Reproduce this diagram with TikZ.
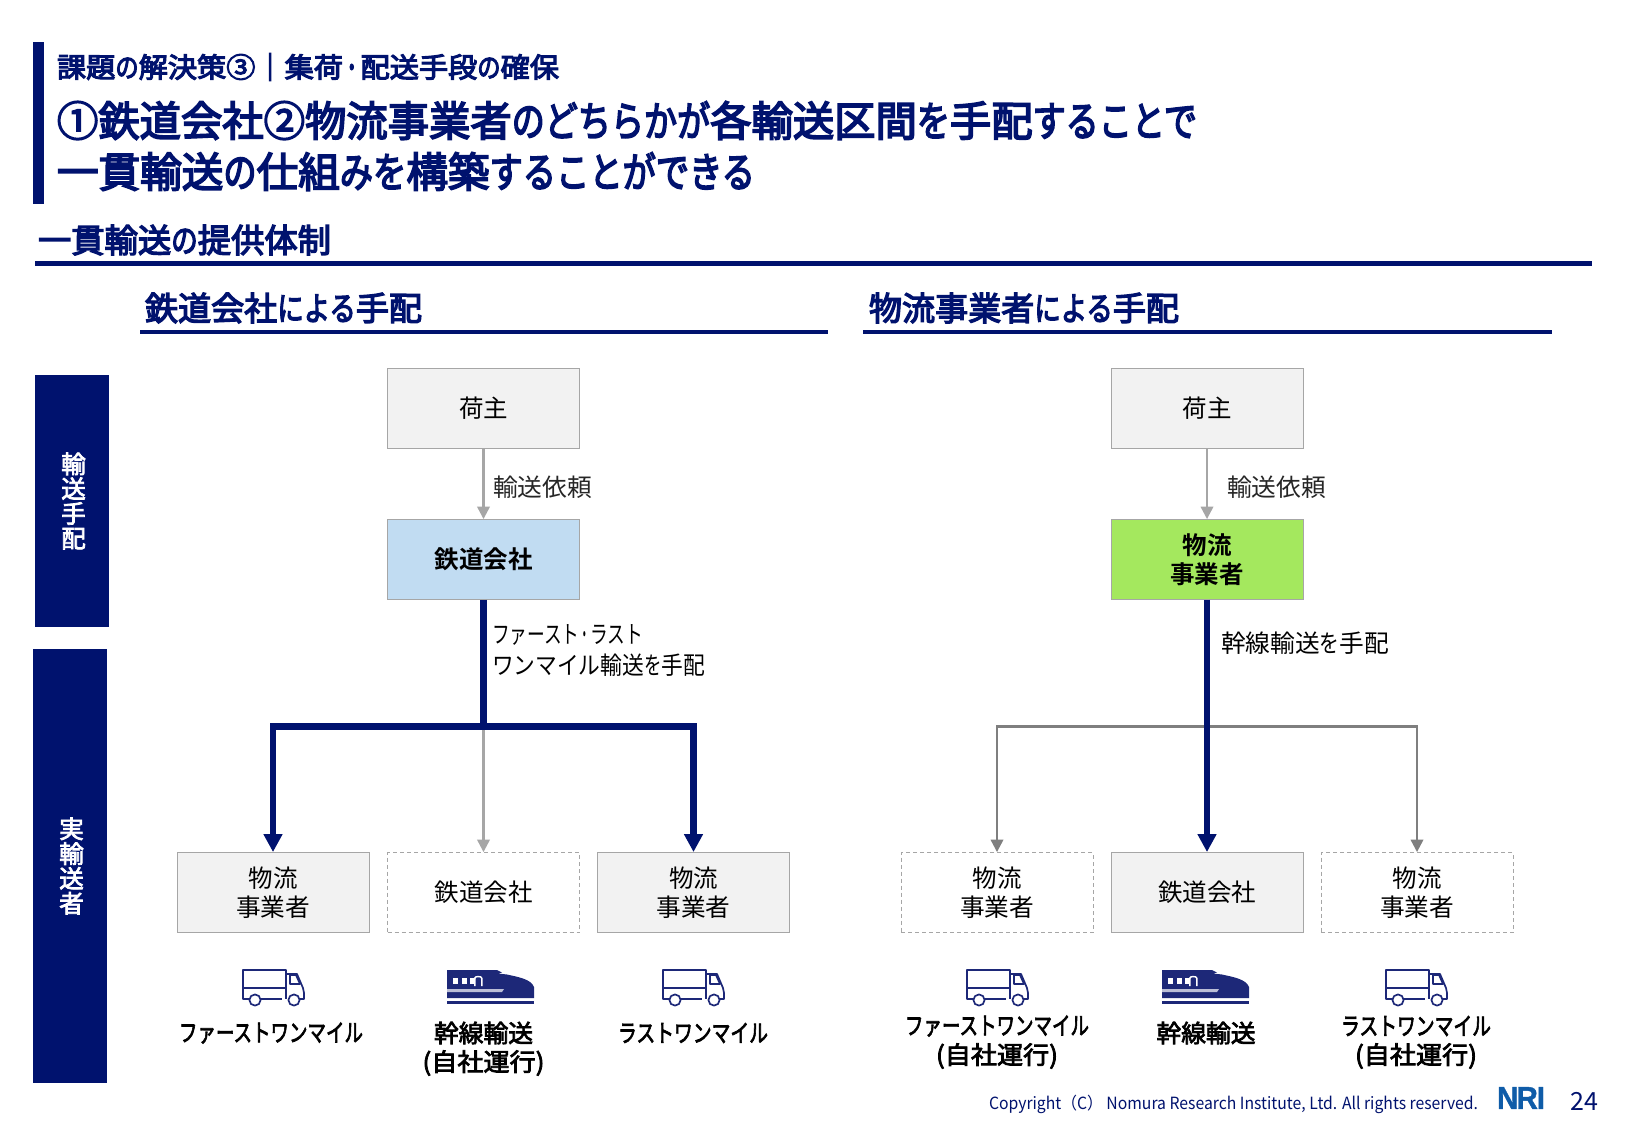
\documentclass[tikz,border=0pt]{standalone}
\usepackage{graphicx}
\usepackage{fontspec}
\setmainfont{Noto Sans CJK JP}[BoldFont={Noto Sans CJK JP Bold}]
\newfontfamily\semifont{Noto Sans CJK JP}[FakeBold=4]
\newfontfamily\captionfont{Noto Sans CJK JP}[FakeBold=3]
\newfontfamily\logofont{Liberation Sans Bold}[FakeBold=1.2]
\usetikzlibrary{arrows.meta}
\definecolor{navy}{HTML}{00126E}
\definecolor{iconblue}{HTML}{1D2878}
\definecolor{linegray}{HTML}{7F7F7F}
\definecolor{lightline}{HTML}{A6A6A6}
\definecolor{boxfill}{HTML}{F2F2F2}
\definecolor{railblue}{HTML}{C1DCF2}
\definecolor{carriergreen}{HTML}{A4E85E}
\definecolor{logoblue}{HTML}{0F5CA8}
% Fits a text to a given width in picture units, keeping its height.
\newlength\fitdim
\newcommand{\fitw}[2]{\setlength\fitdim{#1pt}\resizebox{0.5\fitdim}{\height}{#2}}
% Narrow setting for kana runs, tight setting for the middle dot.
\newcommand{\kn}[1]{\scalebox{0.8}[1]{#1}}
\newcommand{\middot}{\scalebox{0.6}[1]{・}}
\tikzset{
  txt/.style={inner sep=0pt,outer sep=0pt,align=center},
  maintitle/.style={txt,anchor=west,text=navy,font=\semifont\fontsize{20.7}{24}\selectfont},
  kicker/.style={txt,anchor=west,text=navy,font=\semifont\fontsize{13.8}{16}\selectfont},
  heading/.style={txt,anchor=west,text=navy,font=\semifont\fontsize{16.5}{19}\selectfont},
  bandbox/.style={fill=navy,draw=none,inner sep=0pt},
  bandtext/.style={txt,text=white,font=\captionfont\fontsize{12.25}{12.4}\selectfont},
  rolebox/.style={draw=lightline,line width=0.45pt,minimum width=96pt,minimum height=40pt,inner sep=0pt,align=center,text=black,font=\fontsize{12.25}{14.6}\selectfont},
  actbox/.style={rolebox,fill=boxfill},
  idlebox/.style={rolebox,dash pattern=on 2pt off 1.5pt},
  boldbox/.style={rolebox,font=\bfseries\fontsize{12.25}{14.6}\selectfont},
  lbl/.style={txt,anchor=west,text=black!85,font=\fontsize{12.25}{14.6}\selectfont},
  modelbl/.style={txt,text=black,font=\captionfont\fontsize{12.25}{14.8}\selectfont},
  thinarrow/.style={draw=lightline,line width=1.1pt,-{Triangle[length=6.2pt,width=6.2pt]}},
  grayarrow/.style={draw=linegray,line width=1.1pt,-{Triangle[length=6.2pt,width=6.2pt]}},
  boldarrow/.style={draw=navy,line width=3.4pt,-{Triangle[length=9pt,width=9pt]}},
  boldline/.style={draw=navy,line width=3.4pt},
  truckicon/.pic={
    \begin{scope}[draw=iconblue,line width=0.85pt,line join=round]
      \draw (6,29) -- (0,29) -- (0,0) -- (43,0) -- (43,29);
      \draw (0,18) -- (43,18);
      \draw (18,29) -- (39,29);
      \draw (43,4) -- (54,4) -- (60,18) -- (61,23) -- (61,29) -- (57,29);
      \draw (47,5) -- (53,5) -- (57,14) -- (47,14) -- cycle;
      \draw (12,30) circle (5.6);
      \draw (51,30) circle (5.6);
    \end{scope}
  },
  trainicon/.pic={
    \fill[iconblue] (0,0) -- (50,0) -- (55,2.5) -- (51,3.5) -- (60,4.5)
      .. controls (71,7) and (84,9) .. (87,17) -- (87,28) -- (0,28) -- cycle;
    \fill[iconblue] (0,31) rectangle (87,33.5);
    \fill[white] (6,8) rectangle (11,14);
    \fill[white] (15,8) rectangle (20,14);
    \fill[white] (23,8) rectangle (26.5,14);
    \fill[white] (27,16) -- (27,8) .. controls (27,5) and (35.5,5) .. (35.5,8) -- (35.5,16) -- (34,16)
      -- (34,8.5) .. controls (34,6.8) and (28.5,6.8) .. (28.5,8.5) -- (28.5,16) -- cycle;
    \fill[white!70!iconblue] (0,19) -- (57,19) -- (55,22) -- (0,22) -- cycle;
  },
}
\begin{document}
\begin{tikzpicture}[x=0.5pt,y=-0.5pt]
\useasboundingbox (0,0) rectangle (1625,1125);
\fill[white] (0,0) rectangle (1625,1125);

% Slide header
\fill[navy] (33,42) rectangle (44,204);
\node[kicker] (kick) at (57,67) {\fitw{502}{課題\kn{の}解決策③｜集荷\middot 配送手段\kn{の}確保}};
\node[maintitle] (title1) at (57,120.5) {\fitw{1140}{①鉄道会社②物流事業者\kn{のどちらかが}各輸送区間\kn{を}手配\kn{することで}}};
\node[maintitle] (title2) at (57,171.5) {\fitw{698}{一貫輸送\kn{の}仕組\kn{みを}構築\kn{することができる}}};
\node[heading] (sect) at (38,240) {\fitw{293}{一貫輸送\kn{の}提供体制}};
\fill[navy] (35,261) rectangle (1592,266);

% Column headings
\node[heading] (colL) at (145,308) {\fitw{277}{鉄道会社\kn{による}手配}};
\fill[navy] (140,330) rectangle (828,333.5);
\node[heading] (colR) at (869,308) {\fitw{310}{物流事業者\kn{による}手配}};
\fill[navy] (863,330) rectangle (1552,333.5);

% Row bands
\node[bandbox,minimum width=37pt,minimum height=126pt] (bandA) at (72,501) {};
\node[bandtext] (bandAt) at (73.5,501) {輸\\送\\手\\配};
\node[bandbox,minimum width=37pt,minimum height=217pt] (bandB) at (70,866) {};
\node[bandtext] (bandBt) at (71.5,866) {実\\輸\\送\\者};

% Left column: shipper and rail operator
\node[actbox] (shipL) at (483.5,408.5) {荷主};
\node[boldbox,fill=railblue] (railL) at (483.5,559.5) {鉄道会社};
\node[actbox] (c1) at (273,892.5) {\fitw{49}{物流}\\\fitw{74}{事業者}};
\node[idlebox] (c2) at (483.5,892.5) {鉄道会社};
\node[actbox] (c3) at (693.5,892.5) {\fitw{49}{物流}\\\fitw{74}{事業者}};

% Right column: shipper and logistics operator
\node[actbox] (shipR) at (1207,408.5) {荷主};
\node[boldbox,fill=carriergreen] (carrR) at (1207,559.5) {物流\\事業者};
\node[idlebox] (d1) at (997,892.5) {\fitw{49}{物流}\\\fitw{74}{事業者}};
\node[actbox] (d2) at (1207,892.5) {鉄道会社};
\node[idlebox] (d3) at (1417,892.5) {\fitw{49}{物流}\\\fitw{74}{事業者}};

% Branching points of the two trees
\coordinate (jL) at (483.5,726.5);
\coordinate (jR) at (1207,726.5);

% Left connectors
\draw[thinarrow] (shipL) -- (railL);
\draw[thinarrow] (jL) -- (c2.north);
\draw[boldline] (railL.south) -- (jL);
\draw[boldarrow] (jL) -| (c1.north);
\draw[boldarrow] (jL) -| (c3.north);

% Right connectors
\draw[thinarrow] (shipR) -- (carrR);
\draw[draw=linegray,line width=1.7pt] (jR) -- (jR -| d1.north);
\draw[grayarrow] (jR) -| (d1.north);
\draw[grayarrow] (jR) -| (d3.north);
\draw[boldarrow] (carrR.south) -- (d2.north);

% Connector labels
\node[lbl] (lblA) at (493,487) {\fitw{99}{輸送依頼}};
\node[lbl] (lblB) at (1227,487) {\fitw{99}{輸送依頼}};
\node[lbl,text=black] (lblC) at (492,635) {\fitw{151}{ファースト\middot ラスト}};
\node[lbl,text=black] (lblD) at (492,665) {\fitw{213}{ワンマイル輸送\kn{を}手配}};
\node[lbl,text=black] (lblE) at (1221,643) {\fitw{168}{幹線輸送\kn{を}手配}};

% Transport icons
\pic at (243,970) {truckicon};
\pic at (447,970) {trainicon};
\pic at (663,970) {truckicon};
\pic at (967,970) {truckicon};
\pic at (1162,970) {trainicon};
\pic at (1386,970) {truckicon};

% Transport mode captions
\node[modelbl] (m1) at (271,1033) {\fitw{184}{ファーストワンマイル}};
\node[modelbl] (m2) at (483.5,1033) {\fitw{99}{幹線輸送}};
\node[modelbl] (m3) at (483.5,1063) {\fitw{122}{(自社運行)}};
\node[modelbl] (m4) at (693,1033) {\fitw{150}{ラストワンマイル}};
\node[modelbl] (m5) at (997,1026) {\fitw{184}{ファーストワンマイル}};
\node[modelbl] (m6) at (997,1056) {\fitw{122}{(自社運行)}};
\node[modelbl] (m7) at (1206,1033) {\fitw{99}{幹線輸送}};
\node[modelbl] (m8) at (1416,1026) {\fitw{150}{ラストワンマイル}};
\node[modelbl] (m9) at (1416,1056) {\fitw{122}{(自社運行)}};

% Footer
\node[txt,anchor=west,text=navy,font=\fontsize{8.4}{10}\selectfont] (copy) at (989,1104)
  {\fitw{489}{Copyright（C） Nomura Research Institute, Ltd. All rights reserved.}};
\node[txt,text=logoblue,font=\logofont\fontsize{15.8}{16}\selectfont] (logo) at (1521,1098) {\fitw{48}{N\kern-1pt R\kern-0.6pt I}};
\node[txt,anchor=east,text=navy,font=\fontsize{12.5}{14}\selectfont] (page) at (1598,1101) {24};
\end{tikzpicture}
\end{document}
